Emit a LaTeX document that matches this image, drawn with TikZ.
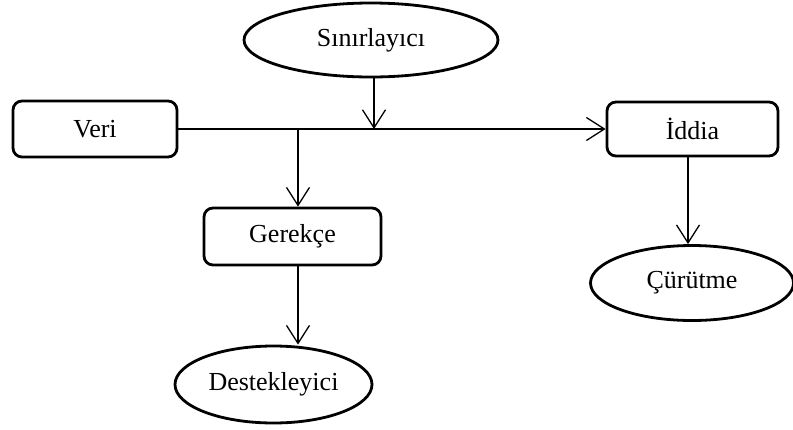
\documentclass[tikz,border=0pt]{standalone}
\usepackage{fontspec}
\setmainfont{Liberation Serif}
\usetikzlibrary{shapes.geometric,arrows.meta}
\begin{document}
\begin{tikzpicture}[x=0.5pt,y=-0.5pt,
  every node/.style={font=\fontsize{13}{15}\selectfont},
  rbox/.style={draw,line width=1.4pt,rounded corners=4.5pt,inner sep=0pt},
  oval/.style={draw,ellipse,line width=1.4pt,inner sep=0pt},
  conn/.style={line width=0.65pt},
  arr/.style={conn,-{Straight Barb[length=9pt,width=11.5pt,line width=0.65pt]}}]
\useasboundingbox (0,0) rectangle (793,429);
\node[oval,minimum width=127pt,minimum height=37pt] (S) at (371,40) {Sınırlayıcı};
\node[rbox,minimum width=82pt,minimum height=28pt] (V) at (95,129) {Veri};
\node[rbox,minimum width=85.5pt,minimum height=27pt] (I) at (692.5,129) {İddia};
\node[rbox,minimum width=88.5pt,minimum height=28.5pt] (G) at (292.5,236.5) {Gerekçe};
\node[oval,minimum width=101.5pt,minimum height=37.5pt] (C) at (692,283) {Çürütme};
\node[oval,minimum width=98.5pt,minimum height=38.5pt] (D) at (273.5,384.5) {Destekleyici};
\coordinate (j1) at (298,129);
\coordinate (j2) at (374,129);
\draw[arr] (V.east) -- (I.west);
\draw[arr] (S.south -| j2) -- (j2);
\draw[arr] (j1) -- (G.north -| j1);
\draw[arr] (G.south -| j1) -- (D.north -| j1);
\draw[arr] (I.south -| 688,0) -- (C.north -| 688,0);
\end{tikzpicture}
\end{document}
